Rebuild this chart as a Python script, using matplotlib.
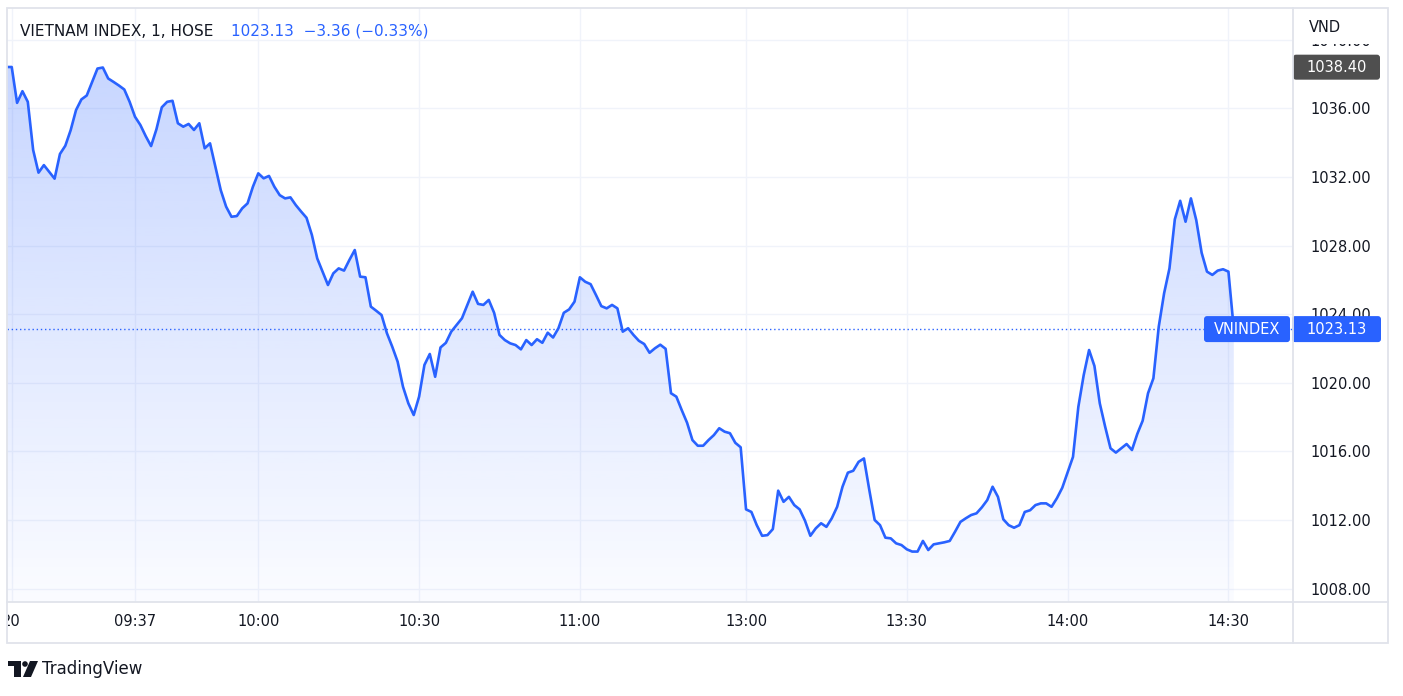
import matplotlib
matplotlib.use("Agg")
import matplotlib.pyplot as plt
import numpy as np
from matplotlib.patches import Rectangle, FancyBboxPatch, Polygon, Circle
from matplotlib.transforms import Bbox

# VN-Index, 1 minute bars (HOSE)
times = [
    "09:13", "09:14", "09:15", "09:16", "09:17", "09:18", "09:19", "09:20", "09:21", "09:22",
    "09:23", "09:24", "09:25", "09:26", "09:27", "09:28", "09:29", "09:30", "09:31", "09:32",
    "09:33", "09:34", "09:35", "09:36", "09:37", "09:38", "09:39", "09:40", "09:41", "09:42",
    "09:43", "09:44", "09:45", "09:46", "09:47", "09:48", "09:49", "09:50", "09:51", "09:52",
    "09:53", "09:54", "09:55", "09:56", "09:57", "09:58", "09:59", "10:00", "10:01", "10:02",
    "10:03", "10:04", "10:05", "10:06", "10:07", "10:08", "10:09", "10:10", "10:11", "10:12",
    "10:13", "10:14", "10:15", "10:16", "10:17", "10:18", "10:19", "10:20", "10:21", "10:22",
    "10:23", "10:24", "10:25", "10:26", "10:27", "10:28", "10:29", "10:30", "10:31", "10:32",
    "10:33", "10:34", "10:35", "10:36", "10:38", "10:39", "10:40", "10:41", "10:42", "10:43",
    "10:44", "10:45", "10:46", "10:47", "10:48", "10:49", "10:50", "10:51", "10:52", "10:53",
    "10:54", "10:55", "10:56", "10:57", "10:58", "10:59", "11:00", "11:01", "11:02", "11:03",
    "11:04", "11:05", "11:06", "11:07", "11:08", "11:09", "11:10", "11:11", "11:12", "11:13",
    "11:14", "11:15", "11:16", "11:17", "11:18", "11:19", "11:20", "11:21", "11:22", "11:23",
    "11:24", "11:25", "11:26", "11:27", "11:28", "11:29", "11:30",
    "13:00", "13:01", "13:02", "13:03", "13:04", "13:05", "13:06", "13:07", "13:08", "13:09",
    "13:10", "13:11", "13:12", "13:13", "13:14", "13:15", "13:16", "13:17", "13:18", "13:19",
    "13:20", "13:21", "13:22", "13:23", "13:24", "13:25", "13:26", "13:27", "13:28", "13:29",
    "13:30", "13:31", "13:32", "13:33", "13:34", "13:35", "13:36", "13:37", "13:38", "13:39",
    "13:40", "13:41", "13:42", "13:43", "13:44", "13:45", "13:46", "13:47", "13:48", "13:49",
    "13:50", "13:51", "13:52", "13:53", "13:54", "13:55", "13:56", "13:57", "13:58", "13:59",
    "14:00", "14:01", "14:02", "14:03", "14:04", "14:05", "14:06", "14:07", "14:08", "14:09",
    "14:10", "14:11", "14:12", "14:13", "14:14", "14:15", "14:16", "14:17", "14:18", "14:19",
    "14:20", "14:21", "14:22", "14:23", "14:24", "14:25", "14:26", "14:27", "14:28", "14:29",
    "14:30", "14:45",
]
values = [
    1038.41, 1038.41, 1036.32, 1037.00, 1036.38, 1033.57, 1032.25, 1032.69, 1032.30, 1031.90,
    1033.34, 1033.82, 1034.73, 1035.90, 1036.52, 1036.75, 1037.54, 1038.32, 1038.38, 1037.74,
    1037.54, 1037.33, 1037.10, 1036.38, 1035.51, 1035.03, 1034.38, 1033.80, 1034.78, 1036.06,
    1036.38, 1036.44, 1035.13, 1034.93, 1035.09, 1034.74, 1035.13, 1033.67, 1033.96, 1032.59,
    1031.23, 1030.27, 1029.68, 1029.72, 1030.17, 1030.46, 1031.43, 1032.21, 1031.92, 1032.06,
    1031.43, 1030.94, 1030.75, 1030.81, 1030.36, 1029.98, 1029.62, 1028.62, 1027.25, 1026.48,
    1025.70, 1026.38, 1026.67, 1026.54, 1027.16, 1027.74, 1026.19, 1026.15, 1024.44, 1024.20,
    1023.95, 1022.89, 1022.10, 1021.23, 1019.77, 1018.80, 1018.12, 1019.19, 1021.04, 1021.68,
    1020.35, 1022.06, 1022.33, 1022.98, 1023.76, 1024.54, 1025.31, 1024.60, 1024.54, 1024.83,
    1024.08, 1022.79, 1022.49, 1022.30, 1022.20, 1021.95, 1022.49, 1022.20, 1022.54, 1022.33,
    1022.92, 1022.64, 1023.18, 1024.08, 1024.28, 1024.73, 1026.15, 1025.89, 1025.75, 1025.12,
    1024.47, 1024.34, 1024.54, 1024.34, 1022.98, 1023.18, 1022.79, 1022.45, 1022.26, 1021.75,
    1022.01, 1022.22, 1021.98, 1019.39, 1019.19, 1018.41, 1017.67, 1016.66, 1016.33, 1016.33,
    1016.66, 1016.95, 1017.35, 1017.15, 1017.06, 1016.50, 1016.24,
    1012.62, 1012.47, 1011.70, 1011.08, 1011.12, 1011.47, 1013.71, 1013.06, 1013.35, 1012.87,
    1012.62, 1011.96, 1011.08, 1011.51, 1011.81, 1011.60, 1012.10, 1012.77, 1013.94, 1014.76,
    1014.87, 1015.39, 1015.59, 1013.75, 1012.00, 1011.70, 1010.97, 1010.93, 1010.64, 1010.54,
    1010.29, 1010.16, 1010.16, 1010.78, 1010.25, 1010.58, 1010.64, 1010.70, 1010.78, 1011.32,
    1011.89, 1012.10, 1012.29, 1012.39, 1012.74, 1013.16, 1013.94, 1013.35, 1012.04, 1011.70,
    1011.55, 1011.70, 1012.47, 1012.57, 1012.87, 1012.97, 1012.97, 1012.77, 1013.27, 1013.88,
    1014.78, 1015.68, 1018.60, 1020.45, 1021.91, 1020.98, 1018.80, 1017.44, 1016.18, 1015.93,
    1016.18, 1016.43, 1016.08, 1017.02, 1017.79, 1019.39, 1020.26, 1023.27, 1025.22, 1026.67,
    1029.53, 1030.61, 1029.39, 1030.75, 1029.48, 1027.58, 1026.48, 1026.29, 1026.54, 1026.62,
    1026.48, 1023.13,
]

tick_times = ["09:14", "09:37", "10:00", "10:30", "11:00", "13:00", "13:30", "14:00", "14:30"]
tick_labels = ["20", "09:37", "10:00", "10:30", "11:00", "13:00", "13:30", "14:00", "14:30"]
price_ticks = [1008, 1012, 1016, 1020, 1024, 1028, 1032, 1036, 1040]

last_price = 1023.13
change = -3.36
change_pct = -0.33
day_high = 1038.40

BLUE = "#2962ff"
TEXT = "#131722"
BORDER = "#e0e3eb"
GRID = "#f0f3fa"
FONT = "DejaVu Sans"


def bar_pos(t):
    # bar index from 09:00, lunch break skipped (13:00 comes right after 11:30)
    h, m = map(int, t.split(":"))
    mins = h * 60 + m - 9 * 60
    if h >= 13:
        mins -= 89
    close_bar = 14 * 60 + 30 - 9 * 60 - 89
    if mins > close_bar:
        mins = close_bar + 1  # ATC print sits next to 14:30
    return mins


x = np.array([bar_pos(t) for t in times], dtype=float)
y = np.array(values)

W, H = 1403, 696
fig = plt.figure(figsize=(W / 100, H / 100), dpi=100)
fig.patch.set_facecolor("white")

# pane in pixels: x 7..1292, y 8..602
L, R, T, B = 7, 1292, 8, 602
ax = fig.add_axes([L / W, 1 - B / H, (R - L) / W, (B - T) / H])
ax.set_facecolor("white")

ymin, ymax = 1007.22, 1041.85
ax.set_xlim(13.12, 252.86)
ax.set_ylim(ymin, ymax)

# gradient area under the line
top_c = np.array([41, 98, 255]) / 255.0
grad = np.zeros((256, 1, 4))
grad[:, 0, :3] = top_c
grad[:, 0, 3] = np.linspace(0.02, 0.26, 256)
im = ax.imshow(grad, extent=[x.min(), x.max(), ymin, y.max()], origin="lower",
               aspect="auto", zorder=1, interpolation="bilinear")
poly = ax.fill_between(x, y, ymin, color="none", lw=0)
im.set_clip_path(poly.get_paths()[0], transform=ax.transData)

ax.plot(x, y, color=BLUE, lw=1.9, zorder=3, solid_joinstyle="round")

# grid
for p in price_ticks:
    ax.axhline(p, color=GRID, lw=1, zorder=0)
for t in tick_times:
    ax.axvline(bar_pos(t), color=GRID, lw=1, zorder=0)

# last price dotted line
ax.axhline(last_price, color=BLUE, lw=1, ls=(0, (1, 2)), zorder=2)

for s in ax.spines.values():
    s.set_visible(False)

ax.yaxis.tick_right()
ax.set_yticks(price_ticks)
ax.set_yticklabels(["%.2f" % p for p in price_ticks], fontsize=10.5, color=TEXT, family=FONT)
ax.tick_params(axis="y", length=0, pad=13.5)
ax.set_xticks([bar_pos(t) for t in tick_times])
ax.set_xticklabels(tick_labels, fontsize=10.5, color=TEXT, family=FONT)
ax.tick_params(axis="x", length=0, pad=9)

# the date label is cut by the left edge of the pane
clip = Bbox.from_extents(L + 1, 0, W, H)
for lbl in ax.get_xticklabels():
    lbl.set_clip_box(clip)
    lbl.set_clip_on(True)

# overlay in pixel coordinates for frame, labels and logo
ov = fig.add_axes([0, 0, 1, 1])
ov.set_xlim(0, W)
ov.set_ylim(H, 0)
ov.axis("off")
ov.set_zorder(5)


def price_to_px(v):
    disp = ax.transData.transform((0, v))
    return ov.transData.inverted().transform(disp)[1]


ov.add_patch(Rectangle((7, 7.5), 1381, 635, fill=False, ec=BORDER, lw=1.3))
ov.plot([1292.5, 1292.5], [7.5, 642.5], color=BORDER, lw=1.3)
ov.plot([7, 1388], [602, 602], color=BORDER, lw=1.3)

# currency label on top of the price scale
ov.add_patch(Rectangle((1293.5, 8.5), 93, 35, fc="white", ec="none"))
ov.text(1309, 28, "VND", fontsize=10.5, color=TEXT, va="center", ha="left", family=FONT)

# day high marker
yh = price_to_px(day_high)
ov.add_patch(FancyBboxPatch((1293, yh - 12.5), 87, 25, boxstyle="round,pad=0,rounding_size=3",
                            fc="#4f4f4f", ec="none"))
ov.text(1337, yh, "%.2f" % day_high, color="white", fontsize=10.5, ha="center", va="center",
        family=FONT)

# last price labels
yl = price_to_px(last_price)
ov.add_patch(FancyBboxPatch((1204, yl - 13), 86, 26, boxstyle="round,pad=0,rounding_size=3",
                            fc=BLUE, ec="none"))
ov.text(1247, yl, "VNINDEX", color="white", fontsize=10.5, ha="center", va="center",
        family=FONT)
ov.add_patch(FancyBboxPatch((1292, yl - 13), 89, 26, boxstyle="round,pad=0,rounding_size=3",
                            fc=BLUE, ec="none"))
ov.text(1337, yl, "%.2f" % last_price, color="white", fontsize=10.5, ha="center", va="center",
        family=FONT)

# legend line
ov.text(20, 31, "VIETNAM INDEX, 1, HOSE", fontsize=11, color=TEXT, va="center", ha="left",
        family=FONT)
ov.text(231, 31, "%.2f  \u2212%.2f (\u2212%.2f%%)" % (last_price, abs(change), abs(change_pct)),
        fontsize=11, color=BLUE, va="center", ha="left", family=FONT)

# TradingView logo
ov.add_patch(Rectangle((8, 661), 13, 5, fc=TEXT, ec="none"))
ov.add_patch(Rectangle((14, 661), 7, 16, fc=TEXT, ec="none"))
ov.add_patch(Circle((25, 664), 2.8, fc=TEXT, ec="none"))
ov.add_patch(Polygon([(30, 661), (38, 661), (31, 677), (23, 677)], closed=True, fc=TEXT, ec="none"))
ov.text(42, 669, "TradingView", fontsize=12, color=TEXT, va="center", ha="left", family=FONT)

fig.savefig("out.png", dpi=100, facecolor="white")
